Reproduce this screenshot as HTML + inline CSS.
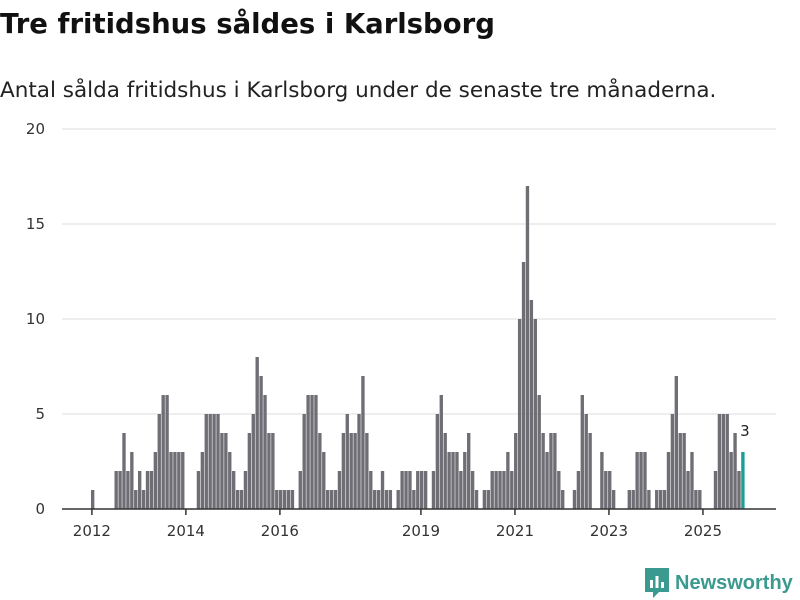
<!DOCTYPE html>
<html><head><meta charset="utf-8"><style>
body{margin:0;width:800px;height:600px;background:#fff;font-family:"DejaVu Sans","Liberation Sans",sans-serif;overflow:hidden;position:relative}
#title{position:absolute;left:0;top:8px;font-size:27.5px;font-weight:bold;color:#111;margin:0;white-space:nowrap}
#sub{position:absolute;left:0;top:78px;font-size:21.5px;color:#222;white-space:nowrap}
#logo{position:absolute;left:645px;top:568px;display:flex;align-items:center}
#logo span{font-size:20px;font-weight:bold;color:#3a9a8f;margin-left:6px;font-family:"Liberation Sans",sans-serif}
</style></head><body>
<h1 id="title">Tre fritidshus såldes i Karlsborg</h1>
<div id="sub">Antal sålda fritidshus i Karlsborg under de senaste tre månaderna.</div>
<svg id="chart" width="800" height="600" style="position:absolute;left:0;top:0"></svg>
<div id="logo">
<svg width="24" height="30" viewBox="0 0 24 30"><path d="M0 0H24V24H14L8 30V24H0Z" fill="#3a9a8f"/><rect x="5" y="12" width="3" height="8" fill="#fff"/><rect x="10.5" y="8" width="3" height="12" fill="#fff"/><rect x="16" y="14" width="3" height="6" fill="#fff"/></svg>
<span>Newsworthy</span></div>
<script>
const values = [1,0,0,0,0,0,
2,2,4,2,3,1,2,1,2,2,3,5,6,6,3,3,3,3,
0,0,0,
2,3,5,5,5,5,4,4,3,2,1,1,2,4,5,8,7,6,4,4,1,1,1,1,1,
0,
2,5,6,6,6,4,3,1,1,1,2,4,5,4,4,5,7,4,2,1,1,2,1,1,0,1,2,2,2,1,2,2,2,0,
2,5,6,4,3,3,3,2,3,4,2,1,0,1,1,2,2,2,2,3,2,4,10,13,17,11,10,6,4,3,4,4,2,1,0,0,1,2,
6,5,4,0,0,3,2,2,1,0,0,0,1,1,3,3,3,1,0,1,1,1,3,5,7,4,4,2,3,1,1,0,0,0,2,5,5,5,3,4,2,3];
const startYear = 2012;
const yTicks = [0,5,10,15,20];
const xTickYears = [2012,2014,2016,2019,2021,2023,2025];
const NS="http://www.w3.org/2000/svg";
const svg=document.getElementById('chart');
const X0=62,X1=776,Y0=509,Y1=129;
const mStart=-7.83, mEnd=174.45;
function x(m){return X0+(m-mStart)/(mEnd-mStart)*(X1-X0);}
function y(v){return Y0-(v/20)*(Y0-Y1);}
function mk(t,a){const e=document.createElementNS(NS,t);for(const k in a)e.setAttribute(k,a[k]);svg.appendChild(e);return e;}
yTicks.forEach(v=>{
  if(v>0){const g=mk('line',{x1:X0,x2:X1,y1:y(v),y2:y(v),stroke:'#dddddd','stroke-width':1});
  
  }
  const t=mk('text',{x:45,y:y(v)+5,'text-anchor':'end','font-size':15,fill:'#333'});
  
  
  t.textContent=v;
});
const bw=(x(1)-x(0))*0.86;
values.forEach((v,i)=>{
  if(v<=0)return;
  const last=i===values.length-1;
  const r=mk('rect',{x:x(i)-bw/2,y:y(v),width:bw,height:y(0)-y(v),fill:last?'#1a9e96':'#6f6e75'});
  
  
});
const lv=values[values.length-1];
const lab=mk('text',{x:x(values.length-1)+2,y:y(lv)-16,'text-anchor':'middle','font-size':15,fill:'#222'});


lab.textContent=lv;
const ax=mk('line',{x1:X0,x2:X1,y1:Y0,y2:Y0,stroke:'#333','stroke-width':1.5});


xTickYears.forEach(yr=>{
  const m=(yr-startYear)*12-0.2;
  const tk=mk('line',{x1:x(m),x2:x(m),y1:Y0,y2:Y0+6,stroke:'#333','stroke-width':1.5});
  
  
  const t=mk('text',{x:x(m),y:Y0+27,'text-anchor':'middle','font-size':15,fill:'#333'});
  
  
  t.textContent=yr;
});
</script>
</body></html>
